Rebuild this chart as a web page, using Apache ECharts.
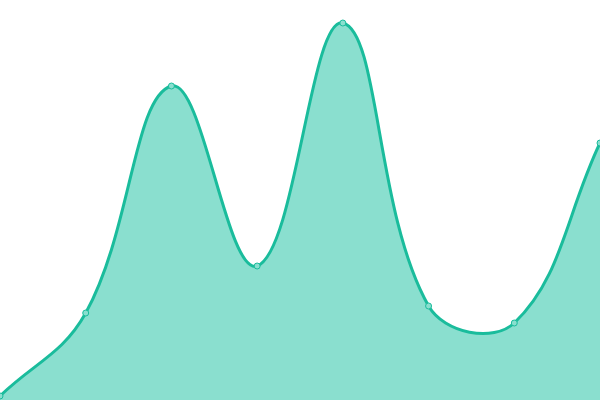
<!DOCTYPE html>
<html>
<head>
<meta charset="utf-8">
<script src="https://cdn.jsdelivr.net/npm/echarts@6/dist/echarts.min.js"></script>
<style>html,body{margin:0;padding:0;background:#fff;}#c{width:600px;height:400px;}</style>
</head>
<body>
<div id="c"></div>
<script>
const categories = ['1', '2', '3', '4', '5', '6', '7', '8'];
const values = [4, 87, 314, 134, 377, 94, 77, 257];

const LINE_COLOR = '#1abc9c';
const FILL_COLOR = '#8adfcf';
const TENSION = 0.4;

function controlPoints(prev, cur, next, t) {
  const d01 = Math.hypot(cur[0] - prev[0], cur[1] - prev[1]);
  const d12 = Math.hypot(next[0] - cur[0], next[1] - cur[1]);
  let s01 = d01 / (d01 + d12), s12 = d12 / (d01 + d12);
  if (isNaN(s01)) s01 = 0;
  if (isNaN(s12)) s12 = 0;
  const fa = t * s01, fb = t * s12;
  return {
    prev: [cur[0] - fa * (next[0] - prev[0]), cur[1] - fa * (next[1] - prev[1])],
    next: [cur[0] + fb * (next[0] - prev[0]), cur[1] + fb * (next[1] - prev[1])]
  };
}

function renderItem(params, api) {
  const idx = params.dataIndexInside;
  const p = api.coord([api.value(0, idx), api.value(1, idx)]);
  const circle = {
    type: 'circle',
    z2: 10,
    shape: { cx: p[0], cy: p[1], r: 3 },
    style: { fill: FILL_COLOR, stroke: LINE_COLOR, lineWidth: 1 }
  };
  if (idx !== 0) return circle;

  const cs = params.coordSys;
  const n = params.dataInsideLength;
  const pts = [];
  for (let j = 0; j < n; j++) pts.push(api.coord([api.value(0, j), api.value(1, j)]));
  const cap = (q) => [Math.min(Math.max(q[0], cs.x), cs.x + cs.width), Math.min(Math.max(q[1], cs.y), cs.y + cs.height)];
  const cps = pts.map((cur, j) => {
    const prev = pts[j - 1] || cur;
    const next = pts[Math.min(j + 1, n - 1)];
    const c = controlPoints(prev, cur, next, TENSION);
    return { prev: cap(c.prev), next: cap(c.next) };
  });
  let d = 'M' + pts[0][0] + ' ' + pts[0][1];
  for (let j = 1; j < n; j++) {
    const a = cps[j - 1].next, b = cps[j].prev;
    d += ' C' + a[0] + ' ' + a[1] + ' ' + b[0] + ' ' + b[1] + ' ' + pts[j][0] + ' ' + pts[j][1];
  }
  const base = api.coord([0, 0])[1];
  const area = d + ' L' + pts[n - 1][0] + ' ' + base + ' L' + pts[0][0] + ' ' + base + ' Z';
  return {
    type: 'group',
    children: [
      { type: 'path', z2: 1, shape: { pathData: area }, style: { fill: FILL_COLOR, stroke: null } },
      { type: 'path', z2: 2, shape: { pathData: d }, style: { fill: null, stroke: LINE_COLOR, lineWidth: 3, lineJoin: 'round' } },
      circle
    ]
  };
}

const chart = echarts.init(document.getElementById('c'), null, { renderer: 'canvas' });
chart.setOption({
  animation: false,
  grid: { left: 0, right: 0, top: 0, bottom: 0 },
  xAxis: { type: 'category', data: categories, boundaryGap: false, show: false },
  yAxis: { type: 'value', min: 0, max: 400, show: false },
  series: [{
    type: 'custom',
    clip: false,
    renderItem: renderItem,
    data: categories.map((c, i) => [c, values[i]])
  }]
});
</script>
</body>
</html>
